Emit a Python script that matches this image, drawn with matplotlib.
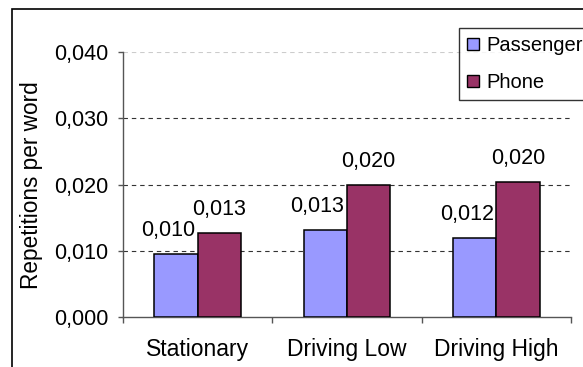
import matplotlib
matplotlib.use("Agg")
import matplotlib.pyplot as plt
import numpy as np
from matplotlib.patches import Patch, Rectangle

categories = ["Stationary", "Driving Low", "Driving High"]
series_names = ["Passenger", "Phone"]
passenger = [0.0096, 0.0132, 0.0119]
phone = [0.0127, 0.0199, 0.0204]
y_ticks = [0.000, 0.010, 0.020, 0.030, 0.040]
y_label = "Repetitions per word"

colors = ["#9999FF", "#993366"]

plt.rcParams['font.family'] = ['Liberation Sans', 'DejaVu Sans']

W, H = 583, 367
fig = plt.figure(figsize=(W / 100, H / 100), dpi=100)
ax = fig.add_axes([123 / W, 1 - 317.3 / H, (571 - 123) / W, (317.3 - 52) / H])

x = np.arange(len(categories))
bw = 0.29
ax.bar(x - bw / 2, passenger, bw, color=colors[0], edgecolor="black", linewidth=1.1, zorder=3)
ax.bar(x + bw / 2, phone, bw, color=colors[1], edgecolor="black", linewidth=1.1, zorder=3)

fmt = lambda v: f"{v:.3f}".replace(".", ",")
for xi, v in zip(x - bw / 2, passenger):
    ax.annotate(fmt(v), xy=(xi, v), xytext=(-8, 18), textcoords="offset pixels",
                ha="center", va="baseline", fontsize=15.5, zorder=4)
for xi, v in zip(x + bw / 2, phone):
    ax.annotate(fmt(v), xy=(xi, v), xytext=(0, 18), textcoords="offset pixels",
                ha="center", va="baseline", fontsize=15.5, zorder=4)

ax.set_xlim(-0.5, len(categories) - 0.5)
ax.set_ylim(0, 0.04)
ax.set_yticks(y_ticks)
ax.set_yticklabels([fmt(t) for t in y_ticks], fontsize=15.5)
ax.set_xticks(x)
ax.set_xticklabels(categories, fontsize=16.5)
ax.set_xticks(np.arange(len(categories) + 1) - 0.5, minor=True)
ax.tick_params(axis="x", which="major", length=0, pad=15)
ax.tick_params(axis="x", which="minor", length=4.5, width=1, color="#555555", direction="out")
ax.tick_params(axis="y", which="major", length=3.6, width=1, color="#555555", pad=7)

for s in ["top", "right"]:
    ax.spines[s].set_visible(False)
for s in ["left", "bottom"]:
    ax.spines[s].set_color("#555555")
    ax.spines[s].set_linewidth(1)

ax.set_axisbelow(True)
ax.yaxis.grid(True, color="#333333", linewidth=0.8, linestyle=(0, (4, 3.5)))
gl = ax.get_ygridlines()
gl[-1].set_color("#cccccc")
gl[0].set_visible(False)

ax.set_ylabel(y_label, fontsize=16.3)
ax.yaxis.set_label_coords((43.3 - 123) / (571 - 123), 0.5)

handles = [Patch(facecolor=colors[0], edgecolor="black", linewidth=1),
           Patch(facecolor=colors[1], edgecolor="black", linewidth=1)]
leg = fig.legend(handles, series_names, loc="upper left",
                 bbox_to_anchor=(459 / W, 1 - 28 / H), bbox_transform=fig.transFigure,
                 frameon=True, fancybox=False, edgecolor="black", borderaxespad=0,
                 fontsize=14.5, handlelength=0.6, handleheight=0.57, handletextpad=0.35,
                 labelspacing=0.9, borderpad=0.4)
leg.get_frame().set_linewidth(1)

frame = Rectangle((12 / W, -0.1), 1.2, 1 - 9 / H + 0.1, transform=fig.transFigure,
                  fill=False, edgecolor="black", linewidth=1.2, clip_on=False)
fig.patches.append(frame)

fig.savefig("out.png", dpi=100)
